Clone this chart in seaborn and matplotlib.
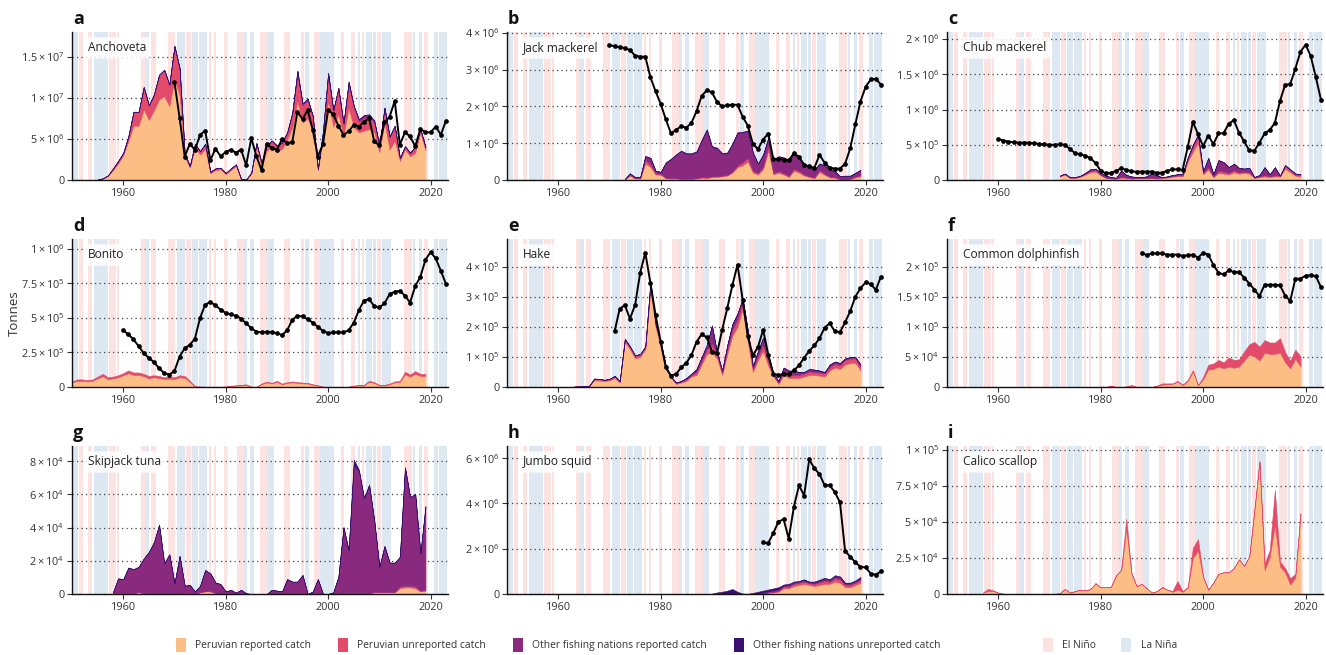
import numpy as np
import matplotlib
matplotlib.use("Agg")
import matplotlib.pyplot as plt
from matplotlib.patches import Patch
from matplotlib.ticker import FixedLocator, FuncFormatter
import seaborn as sns

# ------------------------------------------------------------------
# Catch reconstructions (stacked) and stock estimates (black line)
# Catch layers: Peruvian reported, Peruvian unreported,
#               other nations reported, other nations unreported
# ------------------------------------------------------------------

# Anchoveta, catch 1955-2019, line 1970-2023 (units: 1e6 t)
anch_unit = 1e6
anch_catch_start = 1955
anch_pe_rep = [0.05, 0.2, 0.5, 1.2, 2.0,
               3.0, 4.7, 6.6, 6.6, 8.6, 7.3, 8.5, 9.8, 10.2, 9.0,
               12.2, 10.3, 2.8, 1.5, 3.9, 3.1, 3.8, 0.8, 1.2, 1.3,
               0.7, 1.2, 1.7, 0.1, 0.05, 0.8, 4.0, 1.7, 3.6, 4.0,
               3.4, 3.8, 4.9, 6.4, 9.6, 7.0, 7.5, 6.0, 1.2, 5.0,
               9.6, 6.5, 8.0, 5.4, 8.8, 6.4, 5.8, 6.0, 6.2, 5.8,
               3.4, 7.0, 3.7, 4.8, 2.3, 3.7, 2.9, 3.3, 5.8, 3.6]
anch_pe_unrep = [0.0, 0.0, 0.05, 0.2, 0.3,
                 0.3, 0.6, 1.7, 1.7, 2.7, 1.8, 1.9, 3.0, 3.2, 2.6,
                 4.1, 3.3, 0.4, 0.2, 0.5, 0.4, 0.6, 0.2, 0.2, 0.2,
                 0.15, 0.2, 0.2, 0.02, 0.02, 0.1, 0.45, 0.35, 0.5, 0.7,
                 0.7, 0.7, 0.8, 1.7, 3.3, 2.1, 2.2, 1.7, 0.1, 0.9,
                 3.3, 1.9, 3.1, 1.4, 2.8, 2.5, 1.3, 1.55, 1.45, 1.2,
                 0.7, 1.7, 1.5, 1.7, 0.35, 0.35, 0.35, 0.75, 0.35, 0.35]
anch_ot_rep = [0, 0, 0, 0, 0,
               0, 0, 0, 0, 0, 0, 0, 0, 0, 0,
               0, 0, 0, 0, 0, 0, 0, 0, 0, 0,
               0, 0, 0, 0, 0, 0, 0.05, 0.05, 0.1, 0.1,
               0.1, 0.1, 0.1, 0.1, 0.35, 0.2, 0.2, 0.1, 0.0, 0.1,
               0.1, 0.1, 0.1, 0.1, 0.3, 0.1, 0.25, 0.3, 0.3, 0.2,
               0.1, 0.1, 0.1, 0.1, 0.05, 0.05, 0.05, 0.05, 0.05, 0.05]
anch_ot_unrep = [0, 0, 0, 0, 0,
                 0, 0, 0, 0, 0, 0, 0, 0, 0, 0,
                 0, 0, 0, 0, 0, 0, 0, 0, 0, 0,
                 0, 0, 0, 0, 0, 0, 0, 0, 0, 0,
                 0, 0, 0, 0, 0.05, 0, 0, 0, 0, 0,
                 0.02, 0.02, 0.02, 0.02, 0.1, 0.02, 0.05, 0.05, 0.05, 0.03,
                 0.02, 0.02, 0.02, 0.02, 0.02, 0.02, 0.02, 0.02, 0.02, 0.02]
anch_line_start = 1970
anch_line = [11.9, 7.6, 2.85, 4.4, 3.65, 5.5, 6.0, 2.4, 3.8, 2.9,
             3.4, 3.7, 3.3, 3.7, 1.8, 5.1, 2.9, 1.2, 4.4, 3.9,
             3.7, 4.95, 4.5, 4.6, 8.3, 7.4, 8.5, 6.1, 2.85, 4.4,
             8.5, 8.0, 6.6, 5.5, 5.9, 6.7, 6.5, 7.1, 7.5, 4.7,
             4.2, 7.0, 7.7, 9.6, 4.3, 5.8, 5.3, 4.1, 6.2, 5.8,
             5.8, 6.5, 5.5, 7.2]

# Jack mackerel, catch 1973-2019, line 1970-2023 (units: 1e6 t)
jack_unit = 1e6
jack_catch_start = 1973
jack_pe_rep = [0.02, 0.12, 0.04, 0.04, 0.45, 0.35, 0.15,
               0.14, 0.05, 0.04, 0.04, 0.03, 0.03, 0.03, 0.04, 0.06, 0.05,
               0.08, 0.08, 0.1, 0.12, 0.2, 0.35, 0.4, 0.5, 0.2, 0.15,
               0.3, 0.8, 0.15, 0.2, 0.15, 0.08, 0.25, 0.2, 0.12, 0.08,
               0.05, 0.22, 0.14, 0.07, 0.06, 0.02, 0.02, 0.03, 0.07, 0.1]
jack_pe_unrep = [0.0, 0.02, 0.01, 0.01, 0.1, 0.08, 0.03,
                 0.03, 0.01, 0.01, 0.01, 0.01, 0.01, 0.01, 0.01, 0.02, 0.02,
                 0.02, 0.02, 0.02, 0.02, 0.03, 0.05, 0.08, 0.1, 0.05, 0.04,
                 0.06, 0.12, 0.04, 0.04, 0.04, 0.03, 0.05, 0.05, 0.03, 0.02,
                 0.02, 0.05, 0.03, 0.02, 0.02, 0.01, 0.01, 0.01, 0.02, 0.03]
jack_ot_rep = [0.01, 0.04, 0.03, 0.03, 0.1, 0.17, 0.07,
               0.05, 0.41, 0.51, 0.63, 0.74, 0.67, 0.67, 0.71, 0.99, 1.28,
               0.8, 0.76, 0.59, 0.59, 0.75, 0.88, 0.81, 0.73, 0.48, 0.25,
               0.33, 0.22, 0.35, 0.39, 0.41, 0.42, 0.4, 0.33, 0.29, 0.24,
               0.2, 0.17, 0.22, 0.18, 0.16, 0.06, 0.08, 0.07, 0.1, 0.14]
jack_ot_unrep = [0, 0, 0, 0, 0, 0, 0,
                 0, 0.01, 0.02, 0.02, 0.02, 0.02, 0.02, 0.02, 0.03, 0.03,
                 0.02, 0.02, 0.02, 0.02, 0.02, 0.02, 0.02, 0.02, 0.02, 0.01,
                 0.01, 0.01, 0.01, 0.02, 0.02, 0.02, 0.02, 0.02, 0.01, 0.01,
                 0.01, 0.01, 0.01, 0.01, 0.01, 0.01, 0.01, 0.01, 0.01, 0.01]
jack_line_start = 1970
jack_line = [3.67, 3.63, 3.61, 3.58, 3.53, 3.38, 3.35, 3.35, 2.79, 2.41,
             2.07, 1.65, 1.27, 1.36, 1.46, 1.42, 1.55, 1.87, 2.28, 2.44,
             2.38, 2.12, 2.0, 2.03, 2.05, 2.04, 1.72, 1.48, 0.98, 0.84,
             1.1, 1.26, 0.56, 0.58, 0.55, 0.53, 0.73, 0.63, 0.41, 0.37,
             0.33, 0.68, 0.47, 0.33, 0.31, 0.31, 0.44, 0.86, 1.51, 2.13,
             2.53, 2.73, 2.75, 2.59]

# Chub mackerel, catch 1972-2019, line 1960-2023 (units: 1e5 t)
chub_unit = 1e5
chub_catch_start = 1972
chub_pe_rep = [0.5, 0.75, 0.3, 0.3, 0.45, 0.75, 1.1, 1.2,
               0.65, 0.3, 0.2, 0.2, 0.35, 0.3, 0.2, 0.25, 0.25, 0.25,
               0.3, 0.2, 0.3, 0.35, 0.45, 0.55, 0.55, 2.6, 4.0, 5.3,
               0.8, 1.5, 0.4, 1.0, 0.9, 0.8, 1.1, 0.9, 1.0, 0.9,
               0.3, 0.4, 0.5, 0.4, 0.5, 0.5, 1.6, 1.1, 0.6, 0.5]
chub_pe_unrep = [0.1, 0.15, 0.05, 0.05, 0.1, 0.15, 0.2, 0.2,
                 0.1, 0.05, 0.05, 0.03, 0.05, 0.05, 0.03, 0.03, 0.03, 0.05,
                 0.05, 0.05, 0.05, 0.05, 0.1, 0.1, 0.1, 0.4, 0.7, 0.9,
                 0.2, 0.3, 0.1, 0.3, 0.3, 0.2, 0.3, 0.2, 0.2, 0.2,
                 0.05, 0.1, 0.2, 0.1, 0.2, 0.1, 0.4, 0.3, 0.2, 0.2]
chub_ot_rep = [0.0, 0.0, 0.05, 0.05, 0.05, 0.1, 0.2, 0.2,
               0.25, 0.25, 0.15, 0.07, 0.9, 0.35, 0.27, 0.12, 0.12, 0.2,
               0.65, 0.35, 0.05, 0.1, 0.15, 0.15, 0.25, 0.2, 0.3, 0.2,
               0.2, 1.3, 0.3, 1.5, 1.3, 0.8, 0.9, 0.6, 0.4, 0.6,
               0.05, 0.2, 1.1, 0.3, 1.1, 0.0, 0.1, 0.1, 0.1, 0.1]
chub_ot_unrep = [0, 0, 0, 0, 0, 0.02, 0.03, 0.03,
                 0.03, 0.02, 0.02, 0.02, 0.05, 0.03, 0.02, 0.02, 0.02, 0.02,
                 0.03, 0.02, 0.02, 0.02, 0.02, 0.02, 0.02, 0.03, 0.03, 0.03,
                 0.03, 0.05, 0.03, 0.05, 0.05, 0.03, 0.03, 0.03, 0.03, 0.03,
                 0.02, 0.02, 0.04, 0.02, 0.04, 0.02, 0.02, 0.02, 0.02, 0.02]
chub_line_start = 1960
chub_line = [5.83, 5.6, 5.45, 5.35, 5.3, 5.3, 5.3, 5.2, 5.1, 5.05,
             5.0, 5.0, 5.05, 5.0, 4.4, 3.8, 3.65, 3.45, 3.1, 2.4,
             1.3, 0.95, 1.0, 1.3, 1.65, 1.45, 1.25, 1.15, 1.2, 1.2,
             1.2, 1.0, 1.05, 1.3, 1.5, 1.5, 1.45, 4.7, 8.25, 6.5,
             4.8, 6.3, 5.1, 6.6, 6.65, 8.0, 8.5, 6.7, 5.5, 4.2,
             4.15, 5.3, 6.6, 7.1, 8.1, 11.2, 13.5, 13.6, 15.8, 18.2,
             19.2, 17.6, 14.6, 11.4]

# Bonito, catch 1950-2019, line 1960-2023 (units: 1e5 t)
bon_unit = 1e5
bon_catch_start = 1950
bon_pe_rep = [0.32, 0.45, 0.45, 0.4, 0.45, 0.62, 0.78, 0.55, 0.62, 0.7,
              0.85, 1.0, 0.87, 0.87, 0.78, 0.62, 0.7, 0.65, 0.57, 0.6,
              0.57, 0.7, 0.66, 0.37, 0.04, 0.02, 0.015, 0.015, 0.015, 0.015,
              0.025, 0.08, 0.1, 0.12, 0.16, 0.015, 0.015, 0.2, 0.33, 0.25,
              0.37, 0.2, 0.29, 0.33, 0.29, 0.26, 0.25, 0.16, 0.1, 0.015,
              0.008, 0.008, 0.008, 0.008, 0.015, 0.08, 0.12, 0.12, 0.38, 0.29,
              0.12, 0.12, 0.2, 0.33, 0.37, 0.92, 0.75, 0.95, 0.8, 0.8]
bon_pe_unrep = [0.08, 0.1, 0.1, 0.1, 0.1, 0.13, 0.17, 0.15, 0.13, 0.15,
                0.15, 0.2, 0.18, 0.18, 0.17, 0.18, 0.15, 0.15, 0.13, 0.15,
                0.13, 0.15, 0.14, 0.08, 0.01, 0.01, 0.005, 0.005, 0.005, 0.005,
                0.005, 0.02, 0.02, 0.03, 0.04, 0.005, 0.005, 0.05, 0.07, 0.05,
                0.08, 0.05, 0.06, 0.07, 0.06, 0.06, 0.05, 0.04, 0.02, 0.005,
                0.002, 0.002, 0.002, 0.002, 0.005, 0.02, 0.03, 0.03, 0.07, 0.06,
                0.03, 0.03, 0.05, 0.07, 0.08, 0.18, 0.15, 0.2, 0.15, 0.15]
bon_line_start = 1960
bon_line = [4.1, 3.8, 3.45, 2.95, 2.45, 2.1, 1.8, 1.35, 1.0, 0.9,
            1.15, 2.2, 2.8, 3.05, 3.5, 5.0, 5.95, 6.15, 5.9, 5.6,
            5.35, 5.25, 5.15, 4.95, 4.6, 4.25, 4.0, 3.95, 4.0, 3.95,
            3.9, 3.75, 4.1, 4.85, 5.15, 5.1, 4.9, 4.65, 4.35, 4.05,
            3.9, 3.95, 3.95, 3.95, 4.1, 4.65, 5.55, 6.25, 6.35, 5.85,
            5.75, 6.05, 6.7, 6.9, 6.95, 6.6, 6.1, 7.3, 7.95, 9.2,
            9.75, 9.3, 8.4, 7.45]

# Hake, catch 1963-2019, line 1971-2023 (units: 1e5 t)
hake_unit = 1e5
hake_catch_start = 1963
hake_pe_rep = [0.01, 0.02, 0.02, 0.02, 0.22, 0.22, 0.2,
               0.22, 0.3, 0.15, 1.5, 1.25, 0.95, 1.0, 1.25, 3.2, 2.0,
               1.35, 0.6, 0.3, 0.1, 0.15, 0.2, 0.35, 0.4, 0.75, 1.1,
               1.15, 0.95, 0.4, 1.1, 1.7, 2.0, 2.6, 1.5, 0.5, 0.9,
               1.2, 0.7, 0.35, 0.1, 0.4, 0.3, 0.3, 0.3, 0.35, 0.4,
               0.4, 0.38, 0.35, 0.55, 0.65, 0.6, 0.75, 0.8, 0.8, 0.55]
hake_pe_unrep = [0, 0, 0, 0.01, 0.04, 0.04, 0.03,
                 0.04, 0.05, 0.03, 0.08, 0.08, 0.08, 0.08, 0.08, 0.25, 0.08,
                 0.12, 0.08, 0.04, 0.03, 0.03, 0.05, 0.05, 0.1, 0.12, 0.15,
                 0.3, 0.12, 0.08, 0.15, 0.2, 0.25, 0.25, 0.2, 0.1, 0.15,
                 0.2, 0.15, 0.05, 0.05, 0.1, 0.1, 0.1, 0.1, 0.1, 0.12,
                 0.1, 0.1, 0.1, 0.12, 0.12, 0.12, 0.15, 0.15, 0.15, 0.12]
hake_ot_rep = [0, 0, 0, 0, 0.02, 0.01, 0.01,
               0.01, 0.02, 0.02, 0.02, 0.02, 0.02, 0.02, 0.02, 0.05, 0.02,
               0.03, 0.02, 0.01, 0.02, 0.02, 0.04, 0.04, 0.09, 0.12, 0.14,
               0.59, 0.07, 0.06, 0.14, 0.19, 0.19, 0.09, 0.19, 0.09, 0.14,
               0.24, 0.19, 0.04, 0.04, 0.14, 0.14, 0.14, 0.09, 0.04, 0.07,
               0.07, 0.06, 0.04, 0.07, 0.07, 0.07, 0.04, 0.04, 0.04, 0.07]
hake_ot_unrep = [0, 0, 0, 0, 0, 0, 0,
                 0, 0, 0, 0, 0, 0, 0, 0, 0, 0,
                 0, 0, 0, 0, 0, 0.01, 0.01, 0.01, 0.01, 0.01,
                 0.01, 0.01, 0.01, 0.01, 0.01, 0.01, 0.01, 0.01, 0.01, 0.01,
                 0.01, 0.01, 0.01, 0.01, 0.01, 0.01, 0.01, 0.01, 0.01, 0.01,
                 0.01, 0.01, 0.01, 0.01, 0.01, 0.01, 0.01, 0.01, 0.01, 0.01]
hake_line_start = 1971
hake_line = [1.85, 2.6, 2.72, 2.27, 2.72, 3.8, 4.47, 3.45, 2.4,
             1.5, 0.65, 0.38, 0.43, 0.65, 0.8, 1.05, 1.5, 1.75, 1.65,
             1.18, 1.12, 1.9, 2.62, 3.38, 4.07, 2.9, 1.68, 1.05, 1.33,
             1.9, 1.08, 0.43, 0.4, 0.43, 0.43, 0.55, 0.72, 0.97, 1.2,
             1.38, 1.62, 1.97, 2.12, 1.85, 1.82, 2.15, 2.52, 3.0, 3.28,
             3.48, 3.42, 3.23, 3.67]

# Common dolphinfish, catch 1980-2019 (1e4 t), line 1988-2023 (1e5 t)
dol_unit = 1e4
dol_catch_start = 1980
dol_pe_rep = [0.05, 0.0, 0.15, 0.0, 0.0, 0.05, 0.25, 0.0, 0.0, 0.0,
              0.0, 0.2, 0.4, 0.45, 0.5, 0.9, 0.3, 1.0, 2.6, 0.3,
              1.3, 2.9, 3.0, 3.4, 3.1, 3.4, 3.2, 3.4, 4.4, 5.4,
              5.1, 4.4, 5.7, 5.5, 5.5, 5.7, 4.1, 3.1, 4.7, 3.4]
dol_pe_unrep = [0.05, 0.0, 0.1, 0.0, 0.0, 0.05, 0.1, 0.0, 0.0, 0.0,
                0.0, 0.05, 0.2, 0.15, 0.1, 0.1, 0.1, 0.2, 0.2, 0.0,
                0.4, 0.8, 0.9, 1.1, 1.0, 1.5, 1.3, 1.2, 1.5, 1.7,
                2.4, 2.3, 2.1, 1.9, 1.9, 2.4, 1.7, 1.3, 1.5, 1.7]
dol_line_unit = 1e5
dol_line_start = 1988
dol_line = [2.23, 2.19,
            2.22, 2.22, 2.22, 2.2, 2.2, 2.2, 2.18, 2.19, 2.2, 2.15,
            2.23, 2.2, 2.03, 1.9, 1.87, 1.94, 1.91, 1.91, 1.82, 1.72,
            1.62, 1.51, 1.7, 1.7, 1.7, 1.69, 1.52, 1.43, 1.8, 1.8,
            1.85, 1.86, 1.84, 1.66]

# Skipjack tuna, catch 1958-2019 (units: 1e4 t)
skj_unit = 1e4
skj_catch_start = 1958
skj_pe_rep = [0.0, 0.05,
              0.05, 0.03, 0.05, 0.1, 0.05, 0.03, 0.02, 0.02, 0.02, 0.02,
              0.02, 0.02, 0.05, 0.05, 0.02, 0.1, 0.15, 0.15, 0.05, 0.02,
              0.01, 0.01, 0.0, 0.01, 0.0, 0.0, 0.0, 0.0, 0.0, 0.0,
              0.0, 0.0, 0.0, 0.0, 0.0, 0.0, 0.0, 0.0, 0.0, 0.0,
              0.0, 0.0, 0.02, 0.05, 0.03, 0.05, 0.05, 0.05, 0.05, 0.1,
              0.1, 0.1, 0.1, 0.1, 0.35, 0.4, 0.4, 0.35, 0.15, 0.2]
skj_pe_unrep = [0.0, 0.01,
                0.01, 0.01, 0.01, 0.02, 0.01, 0.01, 0.0, 0.0, 0.0, 0.0,
                0.0, 0.0, 0.01, 0.01, 0.0, 0.02, 0.03, 0.03, 0.01, 0.0,
                0.0, 0.0, 0.0, 0.0, 0.0, 0.0, 0.0, 0.0, 0.0, 0.0,
                0.0, 0.0, 0.0, 0.0, 0.0, 0.0, 0.0, 0.0, 0.0, 0.0,
                0.0, 0.0, 0.01, 0.01, 0.01, 0.01, 0.01, 0.01, 0.01, 0.02,
                0.02, 0.02, 0.02, 0.02, 0.1, 0.1, 0.1, 0.1, 0.05, 0.05]
skj_ot_rep = [0.1, 0.87,
              0.82, 1.54, 1.42, 1.5, 2.06, 2.48, 3.08, 4.13, 1.81, 2.36,
              0.62, 2.26, 0.43, 0.48, 0.13, 0.37, 1.25, 1.05, 0.63, 0.57,
              0.14, 0.24, 0.08, 0.24, 0.04, 0.0, 0.0, 0.0, 0.0, 0.25,
              0.2, 0.15, 0.89, 0.74, 0.74, 1.14, 0.0, 0.15, 0.89, 0.0,
              0.0, 0.1, 1.0, 3.94, 2.58, 7.69, 7.34, 5.69, 6.49, 4.29,
              1.51, 2.75, 1.76, 1.76, 1.78, 7.1, 5.31, 5.56, 2.23, 5.01]
skj_ot_unrep = [0.0, 0.02,
                0.02, 0.02, 0.02, 0.03, 0.03, 0.03, 0.05, 0.05, 0.02, 0.02,
                0.01, 0.02, 0.01, 0.01, 0.0, 0.01, 0.02, 0.02, 0.01, 0.01,
                0.0, 0.0, 0.0, 0.0, 0.0, 0.0, 0.0, 0.0, 0.0, 0.0,
                0.0, 0.0, 0.01, 0.01, 0.01, 0.01, 0.0, 0.0, 0.01, 0.0,
                0.0, 0.0, 0.02, 0.05, 0.03, 0.35, 0.1, 0.05, 0.05, 0.04,
                0.02, 0.03, 0.02, 0.02, 0.02, 0.05, 0.04, 0.04, 0.02, 0.04]

# Jumbo squid, catch 1990-2019, line 2000-2023 (units: 1e6 t)
sq_unit = 1e6
sq_catch_start = 1990
sq_pe_rep = [0, 0, 0, 0, 0, 0, 0, 0, 0, 0,
             0.02, 0.05, 0.07, 0.1, 0.25, 0.25, 0.35, 0.4, 0.45, 0.4,
             0.35, 0.4, 0.45, 0.45, 0.55, 0.5, 0.3, 0.3, 0.4, 0.5]
sq_pe_unrep = [0, 0, 0, 0, 0, 0, 0, 0, 0, 0,
               0.01, 0.02, 0.03, 0.05, 0.08, 0.08, 0.1, 0.1, 0.1, 0.08,
               0.1, 0.12, 0.13, 0.1, 0.15, 0.15, 0.1, 0.1, 0.1, 0.12]
sq_ot_rep = [0.0, 0.01, 0.01, 0.01, 0.01, 0.01, 0.0, 0.0, 0.0, 0.01,
             0.04, 0.05, 0.06, 0.06, 0.05, 0.07, 0.06, 0.05, 0.07, 0.05,
             0.06, 0.07, 0.1, 0.07, 0.09, 0.09, 0.07, 0.07, 0.07, 0.09]
sq_ot_unrep = [0.02, 0.06, 0.09, 0.14, 0.21, 0.09, 0.02, 0.01, 0.05, 0.09,
               0.08, 0.08, 0.09, 0.09, 0.04, 0.05, 0.04, 0.03, 0.03, 0.02,
               0.04, 0.04, 0.04, 0.03, 0.04, 0.04, 0.03, 0.03, 0.03, 0.04]
sq_line_start = 2000
sq_line = [2.28, 2.25, 2.7, 3.2, 3.3, 2.45, 3.85, 4.8, 4.35, 5.95,
           5.55, 5.3, 4.8, 4.8, 4.5, 4.05, 1.9, 1.65, 1.4, 1.2,
           1.18, 0.9, 0.85, 1.0]

# Calico scallop, catch 1957-2019 (units: 1e3 t)
sc_unit = 1e3
sc_catch_start = 1957
sc_pe_rep = [1.0, 2.0, 2.0,
             0.8, 0.2, 0.1, 0.1, 0.1, 0.1, 0.1, 0.1, 0.1, 0.1,
             0.1, 0.1, 0.5, 3.5, 1.0, 2.0, 3.0, 2.5, 3.5, 7.5,
             4.5, 5.0, 5.0, 13.0, 16.5, 45.0, 14.0, 5.5, 7.0, 4.0,
             1.0, 2.0, 4.5, 3.0, 1.5, 3.0, 1.5, 4.5, 25.0, 30.0,
             11.5, 3.0, 8.0, 14.0, 15.0, 15.0, 18.0, 24.0, 19.5, 26.0,
             58.0, 92.0, 16.5, 25.5, 48.0, 19.0, 15.0, 6.5, 11.5, 55.5]
sc_pe_unrep = [0.0, 1.5, 0.5,
               0.2, 0, 0, 0, 0, 0, 0, 0, 0, 0,
               0, 0, 0, 0, 0, 0, 0, 0, 0, 0,
               0, 0, 0, 0, 0.5, 7.0, 1.0, 0, 0, 0,
               0, 0, 0.5, 0, 0.5, 6.0, 0.5, 0.5, 7.0, 8.0,
               0.5, 0, 0, 0, 0, 0, 0, 0, 0, 0,
               0, 0, 4.5, 5.0, 24.0, 3.5, 3.0, 4.5, 2.5, 0.5]

# ENSO phases (decimal years)
el_nino = [(1951.33, 1952.08), (1953.08, 1954.0), (1957.25, 1958.5),
           (1958.83, 1959.25), (1963.42, 1964.17), (1965.33, 1966.33),
           (1968.75, 1970.08), (1972.33, 1973.25), (1976.67, 1977.17),
           (1977.67, 1978.08), (1979.67, 1980.17), (1982.25, 1983.5),
           (1986.67, 1988.17), (1991.33, 1992.5), (1994.67, 1995.25),
           (1997.33, 1998.42), (2002.42, 2003.17), (2004.5, 2005.17),
           (2006.67, 2007.08), (2009.5, 2010.25), (2014.75, 2016.33),
           (2018.75, 2019.5), (2023.33, 2024.0)]
la_nina = [(1950.0, 1951.17), (1954.33, 1957.0), (1964.33, 1965.08),
           (1970.5, 1972.08), (1973.33, 1974.58), (1974.75, 1976.33),
           (1983.67, 1984.08), (1984.75, 1985.5), (1988.33, 1989.42),
           (1995.58, 1996.25), (1998.5, 2001.17), (2005.83, 2006.25),
           (2007.42, 2008.5), (2008.83, 2009.25), (2010.42, 2011.42),
           (2011.5, 2012.33), (2016.58, 2017.0), (2017.75, 2018.33),
           (2020.58, 2021.42), (2021.58, 2023.17)]

layer_labels = ["Peruvian reported catch", "Peruvian unreported catch",
                "Other fishing nations reported catch",
                "Other fishing nations unreported catch"]

# ------------------------------------------------------------------
sns.set_theme(style="ticks")
plt.rcParams["font.family"] = ["Open Sans", "DejaVu Sans"]
plt.rcParams["mathtext.fontset"] = "custom"
plt.rcParams["mathtext.rm"] = "Open Sans"
plt.rcParams["mathtext.it"] = "Open Sans:italic"
plt.rcParams["mathtext.bf"] = "Open Sans:bold"

layer_colors = ["#FDBE85", "#E24B6A", "#8A2A7E", "#3B0F70"]
nino_color = "#FDE2E2"
nina_color = "#DEE8F2"
text_color = "#333333"

W, H = 1326, 655
col_left = [72, 507, 947]
row_top = [32, 239, 446]
ax_w, ax_h = 376, 148


def sci_label(v, pos):
    if v <= 0:
        return "0"
    e = int(np.floor(np.log10(v) + 1e-9))
    m = v / 10 ** e
    return rf"${m:g}\times10^{{{e}}}$"


panels = [
    dict(letter="a", name="Anchoveta", unit=anch_unit, start=anch_catch_start,
         layers=[anch_pe_rep, anch_pe_unrep, anch_ot_rep, anch_ot_unrep],
         line=anch_line, line_start=anch_line_start, line_unit=anch_unit,
         ticks=[0, 5e6, 1e7, 1.5e7], ymax=1.8e7),
    dict(letter="b", name="Jack mackerel", unit=jack_unit, start=jack_catch_start,
         layers=[jack_pe_rep, jack_pe_unrep, jack_ot_rep, jack_ot_unrep],
         line=jack_line, line_start=jack_line_start, line_unit=jack_unit,
         ticks=[0, 1e6, 2e6, 3e6, 4e6], ymax=4.02e6),
    dict(letter="c", name="Chub mackerel", unit=chub_unit, start=chub_catch_start,
         layers=[chub_pe_rep, chub_pe_unrep, chub_ot_rep, chub_ot_unrep],
         line=chub_line, line_start=chub_line_start, line_unit=chub_unit,
         ticks=[0, 5e5, 1e6, 1.5e6, 2e6], ymax=2.1e6),
    dict(letter="d", name="Bonito", unit=bon_unit, start=bon_catch_start,
         layers=[bon_pe_rep, bon_pe_unrep],
         line=bon_line, line_start=bon_line_start, line_unit=bon_unit,
         ticks=[0, 2.5e5, 5e5, 7.5e5, 1e6], ymax=1.07e6),
    dict(letter="e", name="Hake", unit=hake_unit, start=hake_catch_start,
         layers=[hake_pe_rep, hake_pe_unrep, hake_ot_rep, hake_ot_unrep],
         line=hake_line, line_start=hake_line_start, line_unit=hake_unit,
         ticks=[0, 1e5, 2e5, 3e5, 4e5], ymax=4.92e5),
    dict(letter="f", name="Common dolphinfish", unit=dol_unit, start=dol_catch_start,
         layers=[dol_pe_rep, dol_pe_unrep],
         line=dol_line, line_start=dol_line_start, line_unit=dol_line_unit,
         ticks=[0, 5e4, 1e5, 1.5e5, 2e5], ymax=2.46e5),
    dict(letter="g", name="Skipjack tuna", unit=skj_unit, start=skj_catch_start,
         layers=[skj_pe_rep, skj_pe_unrep, skj_ot_rep, skj_ot_unrep],
         line=None, ticks=[0, 2e4, 4e4, 6e4, 8e4], ymax=8.92e4),
    dict(letter="h", name="Jumbo squid", unit=sq_unit, start=sq_catch_start,
         layers=[sq_pe_rep, sq_pe_unrep, sq_ot_rep, sq_ot_unrep],
         line=sq_line, line_start=sq_line_start, line_unit=sq_unit,
         ticks=[0, 2e6, 4e6, 6e6], ymax=6.54e6),
    dict(letter="i", name="Calico scallop", unit=sc_unit, start=sc_catch_start,
         layers=[sc_pe_rep, sc_pe_unrep],
         line=None, ticks=[0, 2.5e4, 5e4, 7.5e4, 1e5], ymax=1.025e5),
]

fig = plt.figure(figsize=(W / 100, H / 100), dpi=100)

for k, p in enumerate(panels):
    r, c = divmod(k, 3)
    left, top = col_left[c], row_top[r]
    ax = fig.add_axes([left / W, 1 - (top + ax_h) / H, ax_w / W, ax_h / H])

    # ENSO background
    for s, e in el_nino:
        ax.axvspan(s, e, color=nino_color, lw=0, zorder=0)
    for s, e in la_nina:
        ax.axvspan(s, e, color=nina_color, lw=0, zorder=0)

    # stacked catch
    years = np.arange(p["start"], p["start"] + len(p["layers"][0]))
    base = np.zeros(len(years))
    for vals, col in zip(p["layers"], layer_colors):
        v = np.asarray(vals, dtype=float) * p["unit"]
        ax.fill_between(years, base, base + v, facecolor=col, edgecolor=col,
                        lw=0.4, zorder=1)
        base = base + v

    # stock estimate
    if p["line"] is not None:
        ly = np.arange(p["line_start"], p["line_start"] + len(p["line"]))
        lv = np.asarray(p["line"], dtype=float) * p["line_unit"]
        sns.lineplot(x=ly, y=lv, ax=ax, color="black", lw=1.4, marker="o",
                     markersize=3.4, markeredgewidth=0, zorder=3)

    ax.set_xlim(1950, 2023.4)
    ax.set_ylim(0, p["ymax"])
    ax.set_xticks([1960, 1980, 2000, 2020])
    ax.yaxis.set_major_locator(FixedLocator(p["ticks"]))
    ax.yaxis.set_major_formatter(FuncFormatter(sci_label))
    ax.set_axisbelow(True)
    ax.yaxis.grid(True, color="#444444", ls=(0, (1, 2.6)), lw=0.9)
    ax.xaxis.grid(False)
    ax.set_xlabel("")
    ax.set_ylabel("")
    sns.despine(ax=ax)
    for sp in ("left", "bottom"):
        ax.spines[sp].set_color("#111111")
        ax.spines[sp].set_linewidth(1.0)
    ax.tick_params(axis="both", labelsize=7.8, length=3.5, width=0.8,
                   color="#333333", labelcolor=text_color, pad=2)
    ax.set_facecolor("white")

    ax.text(0.042, 0.892, p["name"], transform=ax.transAxes, fontsize=8.6,
            color="#222222", va="center", ha="left", zorder=4,
            bbox=dict(boxstyle="round,pad=0.35,rounding_size=0.3",
                      fc="white", ec="none", alpha=0.85))
    fig.text((left + 1) / W, 1 - (top - 8) / H, p["letter"], fontsize=13,
             fontweight="bold", color="#111111", ha="left", va="baseline")

    if k == 3:
        fig.text(14 / W, 1 - (top + ax_h / 2) / H, "Tonnes", fontsize=9.5,
                 color=text_color, rotation=90, ha="center", va="center")

# legends
catch_handles = [Patch(facecolor=c, edgecolor="none", label=l)
                 for c, l in zip(layer_colors, layer_labels)]
enso_handles = [Patch(facecolor=nino_color, edgecolor="none", label="El Niño"),
                Patch(facecolor=nina_color, edgecolor="none", label="La Niña")]
leg_kw = dict(loc="center", frameon=False, fontsize=7.4, handlelength=1.0,
              handleheight=1.7, handletextpad=0.9, labelcolor=text_color)
fig.legend(handles=catch_handles, bbox_to_anchor=(0.421, 0.0155), ncol=4,
           columnspacing=2.6, **leg_kw)
fig.legend(handles=enso_handles, bbox_to_anchor=(0.837, 0.0155), ncol=2,
           columnspacing=2.4, **leg_kw)

fig.savefig("out.png", dpi=100)
